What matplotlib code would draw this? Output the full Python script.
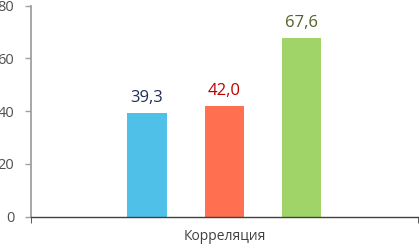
import matplotlib.pyplot as plt
from matplotlib.ticker import FixedLocator

plt.rcParams['font.family'] = ['Open Sans', 'DejaVu Sans']

category = 'Корреляция'
values = [39.3, 42.0, 67.6]
labels = ['39,3', '42,0', '67,6']
bar_colors = ['#4FC1E9', '#FF6F50', '#A0D468']
text_colors = ['#1F2D5A', '#C00000', '#4F6228']
offsets = [-0.2, 0.0, 0.2]
y_ticks = [0, 20, 40, 60, 80]

fig = plt.figure(figsize=(4.19, 2.45), dpi=100)
ax = fig.add_axes([0.074, 0.116, 0.923, 0.861])

for off, v, lab, bc, tc in zip(offsets, values, labels, bar_colors, text_colors):
    ax.bar(off, v, width=0.101, color=bc)
    ax.annotate(lab, (off, v), xytext=(0, 5), textcoords='offset points',
                ha='center', va='bottom', fontsize=12, color=tc)

ax.set_xlim(-0.5, 0.5)
ax.set_ylim(0, 80)
ax.set_yticks(y_ticks)
ax.set_xticks([0])
ax.set_xticklabels([category])
ax.xaxis.set_minor_locator(FixedLocator([-0.5, 0.5]))

for s in ['top', 'right']:
    ax.spines[s].set_visible(False)
ax.spines['left'].set_color('#A0A0A0')
ax.spines['left'].set_linewidth(1.3)
ax.spines['bottom'].set_color('#404040')
ax.spines['bottom'].set_linewidth(1.0)

ax.tick_params(axis='y', colors='#A0A0A0', labelcolor='#505050', labelsize=10.5,
               length=4, width=1, pad=8)
ax.tick_params(axis='x', which='major', length=0, labelcolor='#404040',
               labelsize=10, pad=9)
ax.tick_params(axis='x', which='minor', length=4, color='#404040')

fig.savefig('out.png', dpi=100)
